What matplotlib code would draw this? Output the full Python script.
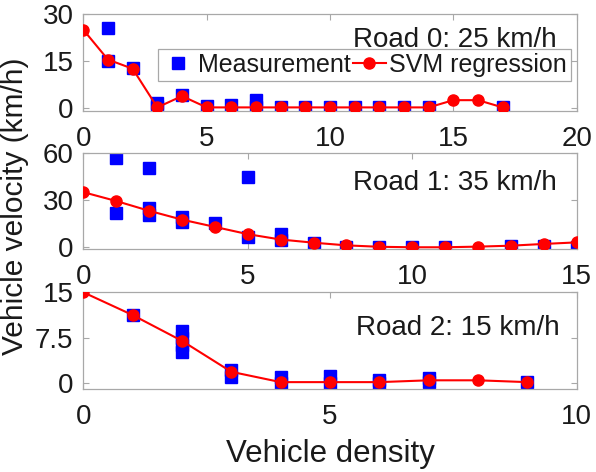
import matplotlib
matplotlib.use("Agg")
import matplotlib.pyplot as plt
from matplotlib.lines import Line2D

plt.rcParams['font.family'] = ['Liberation Sans', 'DejaVu Sans']

# ---------------- data ----------------
road0_meas_x = [1, 1, 2, 3, 3, 4, 5, 6, 7, 7, 8, 9, 10, 11, 12, 13, 14, 17]
road0_meas_y = [25.5, 15.2, 12.7, 1.7, 0.3, 4.3, 0.7, 1.0, 2.5, 0.3, 0.4, 0.4, 0.4, 0.4, 0.4, 0.4, 0.4, 0.3]
road0_svm_x = [0, 1, 2, 3, 4, 5, 6, 7, 8, 9, 10, 11, 12, 13, 14, 15, 16, 17]
road0_svm_y = [25.0, 15.5, 12.6, 0.3, 3.9, 0.3, 0.3, 0.3, 0.3, 0.3, 0.3, 0.3, 0.3, 0.3, 0.3, 2.6, 2.6, 0.3]

road1_meas_x = [1, 1, 2, 2, 2, 3, 3, 4, 5, 5, 6, 6, 7, 8, 9, 10, 11, 13, 14, 15]
road1_meas_y = [56.4, 22.0, 50.6, 24.9, 20.7, 19.5, 16.0, 15.5, 44.3, 6.5, 8.4, 5.0, 3.0, 0.5, 0.3, 0.3, 0.5, 1.0, 0.8, 0.4]
road1_svm_x = [0, 1, 2, 3, 4, 5, 6, 7, 8, 9, 10, 11, 12, 13, 14, 15]
road1_svm_y = [35.0, 29.4, 23.2, 17.6, 13.0, 8.4, 5.0, 3.0, 1.3, 0.4, 0.1, 0.1, 0.5, 1.1, 2.2, 3.2]

road2_meas_x = [1, 2, 2, 2, 2, 3, 3, 4, 4, 5, 5, 6, 6, 7, 7, 9]
road2_meas_y = [11.3, 8.6, 7.5, 6.3, 5.2, 2.2, 1.0, 1.0, 0.0, 1.2, 0.0, 0.5, 0.0, 0.8, 0.2, 0.2]
road2_svm_x = [0, 1, 2, 3, 4, 5, 6, 7, 8, 9]
road2_svm_y = [15.0, 11.25, 7.0, 1.9, 0.2, 0.2, 0.2, 0.5, 0.5, 0.2]

road_labels = ["Road 0: 25 km/h", "Road 1: 35 km/h", "Road 2: 15 km/h"]
xlims = [(0, 20), (0, 15), (0, 10)]
ylims = [(-0.75, 30), (-1.0, 60), (-0.85, 15)]
xticks = [[0, 5, 10, 15, 20], [0, 5, 10, 15], [0, 5, 10]]
yticks = [[0, 15, 30], [0, 30, 60], [0, 7.5, 15]]
yticklabels = [["0", "15", "30"], ["0", "30", "60"], ["0", "7.5", "15"]]

# ---------------- figure ----------------
W, H = 596, 472
fig = plt.figure(figsize=(W / 100, H / 100), dpi=100)

def px_axes(left, top, right, bottom):
    return fig.add_axes([left / W, 1 - bottom / H, (right - left) / W, (bottom - top) / H])

boxes = [(83.3, 14.0, 576.7, 110.7), (83.3, 152.7, 576.7, 249.0), (83.3, 292.3, 576.7, 388.5)]
axes = [px_axes(*b) for b in boxes]

meas = [(road0_meas_x, road0_meas_y), (road1_meas_x, road1_meas_y), (road2_meas_x, road2_meas_y)]
svm = [(road0_svm_x, road0_svm_y), (road1_svm_x, road1_svm_y), (road2_svm_x, road2_svm_y)]
text_pos = [(0.960, 0.662), (0.960, 0.613), (0.966, 0.556)]

spine_col = '#a8a8a8'
txt_col = '#1a1a1a'

for i, ax in enumerate(axes):
    mx, my = meas[i]
    sx, sy = svm[i]
    ax.plot(mx, my, linestyle='none', marker='s', markersize=9.2,
            markerfacecolor='#0000ff', markeredgecolor='#0000ff', zorder=2)
    ax.plot(sx, sy, color='#ff0000', linewidth=1.5, marker='o', markersize=8,
            markerfacecolor='#ff0000', markeredgecolor='#ff0000', zorder=3)
    ax.set_xlim(*xlims[i])
    ax.set_ylim(*ylims[i])
    ax.set_xticks(xticks[i])
    ax.set_yticks(yticks[i])
    ax.set_yticklabels(yticklabels[i])
    for s in ax.spines.values():
        s.set_color(spine_col)
        s.set_linewidth(0.9)
    ax.tick_params(axis='both', direction='in', length=4, width=0.8, color=spine_col,
                   top=True, right=True, labelsize=20, labelcolor=txt_col)
    ax.tick_params(axis='x', pad=11)
    ax.tick_params(axis='y', pad=7)
    for lab in ax.get_xticklabels() + ax.get_yticklabels():
        lab.set_clip_on(False)
    ax.text(text_pos[i][0], text_pos[i][1], road_labels[i], transform=ax.transAxes,
            ha='right', va='baseline', fontsize=20, color=txt_col, zorder=5)

# legend in top panel
h1 = Line2D([], [], linestyle='none', marker='s', markersize=9.2,
            markerfacecolor='#0000ff', markeredgecolor='#0000ff')
h2 = Line2D([], [], color='#ff0000', linewidth=1.5, marker='o', markersize=8,
            markerfacecolor='#ff0000', markeredgecolor='#ff0000')
ax0 = axes[0]
leg = ax0.legend([h1, h2], ["Measurement", "SVM regression"], ncol=2,
                 loc='upper right', bbox_to_anchor=(0.988, 0.638), borderaxespad=0,
                 fontsize=18, handlelength=1.3, handletextpad=0.15, columnspacing=0.1,
                 borderpad=0.15, fancybox=False, framealpha=1, numpoints=1,
                 edgecolor=spine_col, facecolor='white')
leg.get_frame().set_linewidth(0.9)
for t in leg.get_texts():
    t.set_color(txt_col)
leg.set_zorder(6)

fig.text(15 / W, 1 - 206 / H, "Vehicle velocity (km/h)", rotation=90,
         ha='center', va='center', fontsize=21.5, color=txt_col)
fig.text(330 / W, 1 - 462 / H, "Vehicle density", ha='center', va='baseline',
         fontsize=22.5, color=txt_col)

fig.savefig("out.png", dpi=100)
